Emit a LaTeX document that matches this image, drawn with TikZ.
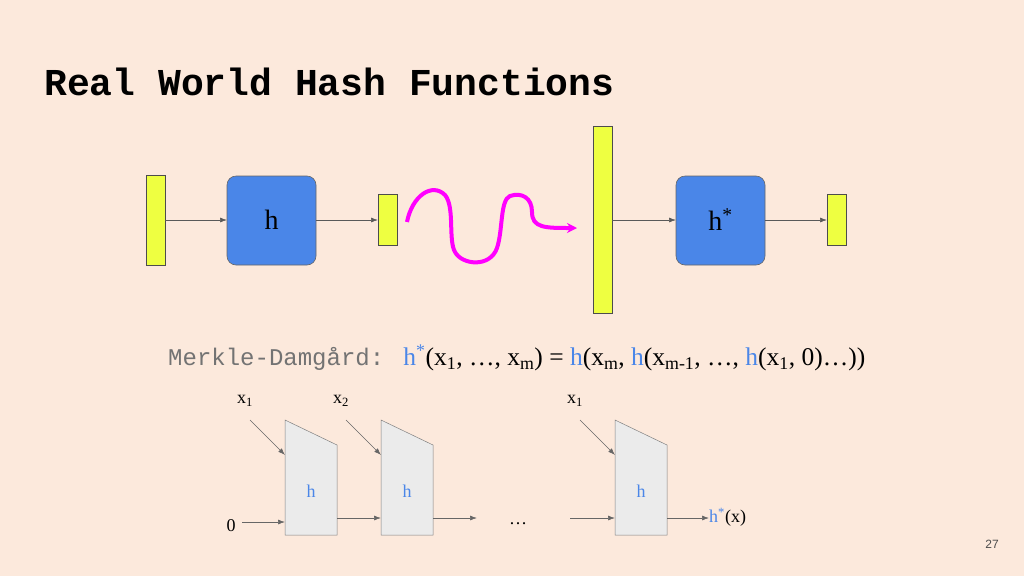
\documentclass[tikz,border=0pt]{standalone}
\usepackage{fontspec}
\setmainfont{Liberation Serif}
\newfontfamily\cour{Liberation Mono}
\newfontfamily\arialf{Liberation Sans}
\usetikzlibrary{arrows.meta}
\definecolor{bg}{HTML}{FCE9DC}
\definecolor{ybar}{HTML}{EEFF41}
\definecolor{hblue}{HTML}{4A86E8}
\definecolor{mag}{HTML}{FF00FF}
\definecolor{hb}{HTML}{4A86E8}
\begin{document}
\begin{tikzpicture}[x=1pt,y=-1pt,
 bar/.style={draw=black!70,fill=ybar,line width=0.6pt},
 hbox/.style={draw=black!60,fill=hblue,rounded corners=9pt,line width=0.6pt},
 arr/.style={-{Latex[length=7pt,width=5pt]},draw=black!65,line width=0.7pt},
 trap/.style={draw=black!50,fill=black!8,line width=0.5pt},
 lab/.style={font=\fontsize{18}{18}\selectfont,inner sep=0pt}]
\fill[bg] (0,0) rectangle (1024,576);
\useasboundingbox (0,0) rectangle (1024,576);
\node[anchor=west,inner sep=0pt,font=\cour\bfseries\fontsize{38}{38}\selectfont] (title) at (44,82) {Real World Hash Functions};
% top row
\draw[bar] (146,175) rectangle (165,265); \coordinate (b1) at (165,220);
\draw[hbox] (227,176) rectangle (316,265); \node[font=\fontsize{28}{28}\selectfont] (h1) at (271.5,220) {h};
\draw[bar] (378,194) rectangle (397,245);
\draw[arr] (b1) -- (227,220);
\draw[arr] (316,220) -- (378,220);
\draw[mag,line width=4pt,-{Stealth[length=10pt,width=10pt]}] (407,222) .. controls (412,196) and (432,182) .. (445,195) .. controls (455,207) and (448,240) .. (455,252) .. controls (462,265) and (490,268) .. (497,248) .. controls (503,230) and (500,200) .. (510,196) .. controls (522,192) and (532,198) .. (532,212) .. controls (532,228) and (545,228) .. (577,228);
\draw[bar] (593,126) rectangle (612,313);
\draw[hbox] (676,176) rectangle (765,265); \node[font=\fontsize{28}{28}\selectfont] (h2) at (720.5,220) {h\textsuperscript{*}};
\draw[bar] (827,194) rectangle (846,245);
\draw[arr] (612,220) -- (676,220);
\draw[arr] (765,220) -- (827,220);
% formula
\node[anchor=west,inner sep=0pt] (md) at (168,358) {{\cour\color{black!55}\fontsize{24}{24}\selectfont Merkle-Damgård: }\fontsize{25.5}{25.5}\selectfont{\color{hb}h}\textsuperscript{\color{hb}*}(x\textsubscript{1}, \dots, x\textsubscript{m}) = {\color{hb}h}(x\textsubscript{m}, {\color{hb}h}(x\textsubscript{m-1}, \dots, {\color{hb}h}(x\textsubscript{1}, 0)\dots))};
% bottom diagram
\foreach \n/\x/\t in {A/285/x\textsubscript{1},B/381/x\textsubscript{2},C/615/x\textsubscript{1}}{
 \draw[trap] (\x,420) -- (\x+52,445) -- (\x+52,535) -- (\x,535) -- cycle;
 \node[lab,text=hb] (h\n) at (\x+26,491) {h};
 \node[lab] (x\n) at (\x-40,401) {\t};
 \draw[arr,draw=black!60] (\x-35,420) -- (\x,455);
}
\node[lab] (zero) at (231,526) {0};
\draw[arr,draw=black!60] (242,522) -- (285,522);
\draw[arr,draw=black!60] (337,518) -- (381,518);
\draw[arr,draw=black!60] (433,518) -- (477,518);
\node[lab] (dots) at (518,524) {\dots};
\draw[arr,draw=black!60] (570,518) -- (615,518);
\draw[arr,draw=black!60] (667,518) -- (709,518);
\node[lab,anchor=west] (out) at (709,517) {{\color{hb}h}\textsuperscript{\color{hb}*}(x)};
\node[font=\arialf\fontsize{12}{12}\selectfont,text=black!70] (pg) at (992,544) {27};
\end{tikzpicture}
\end{document}
